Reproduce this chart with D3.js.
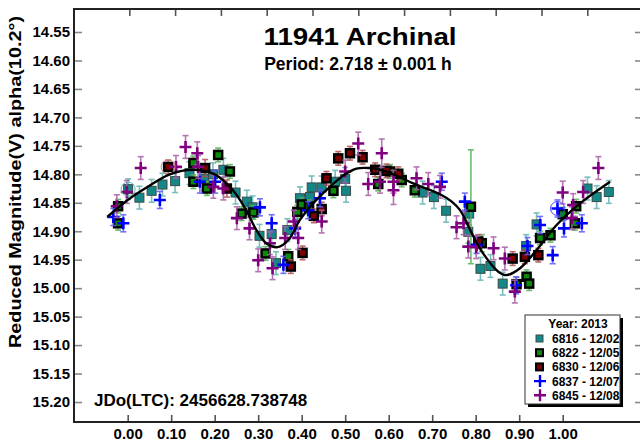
<!DOCTYPE html>
<html lang="en">
<head>
<meta charset="UTF-8">
<title>11941 Archinal</title>
<script src="https://cdn.jsdelivr.net/npm/d3@7/dist/d3.min.js"></script>
<style>
    body { margin: 0; background: #fff; }
    svg text { font-family: "Liberation Sans", Arial, sans-serif; font-weight: bold; }
</style>
</head>
<body>
<script>
    // 数据：[相位, 星等, 误差]
    const s6816 = [
        [0.001,14.826,0.018],[0.027,14.841,0.02],[0.055,14.829,0.02],[0.080,14.818,0.02],[0.109,14.812,0.02],
        [0.142,14.798,0.02],[0.176,14.808,0.02],[0.196,14.800,0.02],[0.220,14.792,0.02],[0.248,14.832,0.02],
        [0.274,14.848,0.02],[0.287,14.858,0.02],[0.303,14.908,0.02],[0.331,14.905,0.02],[0.341,14.956,0.02],
        [0.367,14.898,0.02],[0.396,14.842,0.02],[0.419,14.840,0.02],[0.423,14.823,0.02],[0.446,14.823,0.02],
        [0.477,14.813,0.02],[0.500,14.808,0.02],[0.502,14.829,0.02],[0.678,14.832,0.02],[0.704,14.840,0.02],
        [0.732,14.864,0.02],[0.785,14.869,0.02],[0.783,14.901,0.02],[0.811,14.966,0.02],[0.834,14.961,0.02],
        [0.862,14.992,0.02],[0.916,14.926,0.02],[0.940,14.888,0.02],[1.057,14.825,0.02],[1.078,14.840,0.02],
        [1.106,14.831,0.02]
    ];
    const s6822 = [
        [-0.022,14.886,0.012],[-0.022,14.856,0.012],[0.151,14.780,0.012],[0.151,14.813,0.012],[0.182,14.825,0.012],
        [0.208,14.766,0.012],[0.235,14.795,0.012],[0.262,14.869,0.012],[0.289,14.867,0.012],[0.317,14.939,0.012],
        [0.369,14.944,0.012],[0.390,14.866,0.012],[0.400,14.853,0.012],[0.417,14.857,0.012],[0.473,14.829,0.012],
        [0.576,14.817,0.012],[0.603,14.795,0.012],[0.630,14.810,0.012],[0.660,14.828,0.012],[0.789,14.857,0.1],
        [0.814,14.921,0.015],[0.894,14.993,0.012],[0.917,14.980,0.012],[0.923,14.992,0.012],[0.948,14.912,0.012],
        [0.972,14.907,0.012],[1.000,14.870,0.012],[1.028,14.886,0.012],[1.031,14.856,0.012]
    ];
    const s6830 = [
        [0.093,14.787,0.012],[0.178,14.789,0.015],[0.228,14.825,0.015],[0.375,14.962,0.012],[0.402,14.938,0.012],
        [0.428,14.873,0.012],[0.446,14.861,0.012],[0.457,14.807,0.012],[0.484,14.772,0.012],[0.511,14.763,0.012],
        [0.540,14.770,0.012],[0.569,14.792,0.012],[0.595,14.794,0.012],[0.622,14.799,0.012],[0.806,14.918,0.012],
        [0.885,14.948,0.012],[0.913,14.945,0.012],[0.944,14.942,0.012]
    ];
    const s6837 = [
        [-0.033,14.875,0.015],[-0.010,14.886,0.015],[0.074,14.845,0.015],[0.166,14.813,0.02],[0.201,14.813,0.02],
        [0.304,14.858,0.015],[0.331,14.886,0.015],[0.358,14.959,0.015],[0.385,14.895,0.015],[0.415,14.863,0.015],
        [0.442,14.842,0.015],[0.722,14.813,0.015],[0.775,14.848,0.015],[0.802,14.924,0.015],[0.893,14.995,0.015],
        [0.919,14.926,0.015],[0.948,14.889,0.015],[0.977,14.942,0.015],[0.988,14.860,0.015],[1.003,14.895,0.015],
        [1.044,14.886,0.015]
    ];
    const s6845 = [
        [-0.025,14.856,0.02],[-0.002,14.831,0.02],[0.030,14.789,0.02],[0.111,14.787,0.02],[0.133,14.752,0.02],
        [0.160,14.763,0.02],[0.162,14.787,0.02],[0.197,14.822,0.02],[0.220,14.825,0.02],[0.251,14.877,0.02],
        [0.280,14.895,0.02],[0.300,14.951,0.02],[0.327,14.921,0.02],[0.333,14.965,0.02],[0.362,14.912,0.02],
        [0.382,14.883,0.02],[0.392,14.912,0.02],[0.446,14.883,0.02],[0.500,14.795,0.02],[0.530,14.746,0.02],
        [0.553,14.817,0.02],[0.580,14.813,0.02],[0.584,14.763,0.025],[0.611,14.828,0.025],[0.611,14.813,0.02],
        [0.664,14.807,0.02],[0.691,14.817,0.02],[0.718,14.822,0.02],[0.756,14.893,0.02],[0.772,14.886,0.02],
        [0.783,14.927,0.02],[0.801,14.928,0.02],[0.841,14.930,0.02],[0.867,14.948,0.02],[0.890,15.006,0.02],
        [1.000,14.832,0.02],[1.021,14.877,0.02],[1.024,14.854,0.02],[1.047,14.831,0.02],[1.082,14.789,0.02]
    ];
    // 拟合曲线
    const fitCurve = [
        [-0.047,14.875],[0.0,14.845],[0.05,14.820],[0.097,14.800],[0.15,14.792],[0.20,14.800],[0.242,14.828],
        [0.27,14.860],[0.296,14.898],[0.32,14.922],[0.345,14.928],[0.37,14.915],[0.396,14.880],[0.43,14.848],
        [0.465,14.822],[0.50,14.800],[0.526,14.790],[0.555,14.789],[0.58,14.792],[0.62,14.803],[0.656,14.816],
        [0.718,14.835],[0.745,14.848],[0.764,14.863],[0.794,14.908],[0.817,14.939],[0.852,14.971],[0.871,14.977],
        [0.902,14.965],[0.94,14.933],[0.986,14.889],[1.04,14.851],[1.109,14.813]
    ];
    // 带圆圈标记的点
    const circled = [[0.093,14.787,'#d08080'],[0.001,14.826,'#60b0b0'],[0.988,14.860,'#4040ff']];

    const xTicks = [0,0.1,0.2,0.3,0.4,0.5,0.6,0.7,0.8,0.9,1.0];
    const yTicks = [14.55,14.60,14.65,14.70,14.75,14.80,14.85,14.90,14.95,15.00,15.05,15.10,15.15,15.20];
    const legendLabels = ['6816 - 12/02','6822 - 12/05','6830 - 12/06','6837 - 12/07','6845 - 12/08'];

    const w = 640, h = 442;
    const pLeft = 74, pRight = 641, pTop = 9, pBottom = 422;

    const svg = d3.select('body').append('svg')
        .attr('width', w).attr('height', h);

    const xScale = d3.scaleLinear().domain([-0.1234, 1.18]).range([pLeft, pRight]);
    const yScale = d3.scaleLinear().domain([14.5096, 15.2351]).range([pTop, pBottom]);
    // 顶部刻度与底部不一致
    const xTop = d3.scaleLinear().domain([0, 10]).range([129.3, 587.3]);

    // 数轴
    const tickColor = '#888';
    const gx = svg.append('g').attr('transform', 'translate(0,' + pBottom + ')')
        .call(d3.axisBottom(xScale).tickValues(xTicks).tickFormat(d3.format('.2f')).tickSize(-7).tickPadding(6));
    const gxt = svg.append('g').attr('transform', 'translate(0,' + pTop + ')')
        .call(d3.axisTop(xTop).ticks(10).tickFormat('').tickSize(-7));
    const gy = svg.append('g').attr('transform', 'translate(' + pLeft + ',0)')
        .call(d3.axisLeft(yScale).tickValues(yTicks).tickFormat(d3.format('.2f')).tickSize(-8).tickPadding(4));
    const gyr = svg.append('g').attr('transform', 'translate(' + pRight + ',0)')
        .call(d3.axisRight(yScale).tickValues(yTicks).tickFormat('').tickSize(-6));
    [gx, gxt, gy, gyr].forEach(g => {
        g.select('.domain').remove();
        g.selectAll('.tick line').attr('stroke', tickColor).attr('stroke-width', 1.6);
        g.selectAll('.tick text').attr('fill', '#000').style('font-size', '15px');
    });
    gx.selectAll('.tick line').attr('stroke', '#555');
    gxt.selectAll('.tick line').attr('stroke', '#555');

    // 边框
    svg.append('path')
        .attr('d', 'M' + pRight + ',' + pTop + 'H' + pLeft + 'V' + pBottom + 'H' + pRight)
        .attr('fill', 'none').attr('stroke', '#222').attr('stroke-width', 2);

    const series = [
        {data: s6816, kind: 'sq', fill: '#168787', stroke: '#3a4a4a', sw: 1, size: 9, err: '#63b3b3'},
        {data: s6822, kind: 'sq', fill: '#0a8a0a', stroke: '#000', sw: 2.5, size: 8, err: '#55b055'},
        {data: s6830, kind: 'sq', fill: '#7a0000', stroke: '#000', sw: 2.5, size: 8, err: '#b05050'},
        {data: s6837, kind: 'plus', fill: '#0000ff', err: '#5a5aff'},
        {data: s6845, kind: 'plus', fill: '#800080', err: '#a860a8'}
    ];

    const plot = svg.append('g');
    series.forEach(s => {
        const g = plot.append('g');
        // 误差棒
        const eb = g.selectAll('g.err').data(s.data).enter().append('g')
            .attr('stroke', s.err).attr('stroke-width', 1.6).attr('opacity', 0.85);
        eb.append('line')
            .attr('x1', d => xScale(d[0])).attr('x2', d => xScale(d[0]))
            .attr('y1', d => yScale(d[1] - d[2])).attr('y2', d => yScale(d[1] + d[2]));
        eb.append('line')
            .attr('x1', d => xScale(d[0]) - 3).attr('x2', d => xScale(d[0]) + 3)
            .attr('y1', d => yScale(d[1] - d[2])).attr('y2', d => yScale(d[1] - d[2]));
        eb.append('line')
            .attr('x1', d => xScale(d[0]) - 3).attr('x2', d => xScale(d[0]) + 3)
            .attr('y1', d => yScale(d[1] + d[2])).attr('y2', d => yScale(d[1] + d[2]));
        if (s.kind === 'sq') {
            g.selectAll('rect').data(s.data).enter().append('rect')
                .attr('x', d => xScale(d[0]) - s.size / 2)
                .attr('y', d => yScale(d[1]) - s.size / 2)
                .attr('width', s.size).attr('height', s.size)
                .attr('fill', s.fill).attr('stroke', s.stroke).attr('stroke-width', s.sw);
        } else {
            g.selectAll('path.mk').data(s.data).enter().append('path')
                .attr('d', d => {
                    const cx = xScale(d[0]), cy = yScale(d[1]);
                    return 'M' + (cx - 6) + ',' + cy + 'H' + (cx + 6) + 'M' + cx + ',' + (cy - 6) + 'V' + (cy + 6);
                })
                .attr('stroke', s.fill).attr('stroke-width', 2.6).attr('fill', 'none');
        }
    });

    plot.selectAll('circle.hl').data(circled).enter().append('circle')
        .attr('cx', d => xScale(d[0])).attr('cy', d => yScale(d[1])).attr('r', 7)
        .attr('fill', 'none').attr('stroke', d => d[2]).attr('stroke-width', 1);

    // 拟合曲线
    const line = d3.line().x(d => xScale(d[0])).y(d => yScale(d[1])).curve(d3.curveCatmullRom);
    svg.append('path').datum(fitCurve).attr('d', line)
        .attr('fill', 'none').attr('stroke', '#000').attr('stroke-width', 2.4);

    // 标题
    svg.append('text').attr('x', 360).attr('y', 45).attr('text-anchor', 'middle')
        .style('font-size', '24px').attr('textLength', 193).attr('lengthAdjust', 'spacingAndGlyphs')
        .text('11941 Archinal');
    svg.append('text').attr('x', 358).attr('y', 70).attr('text-anchor', 'middle')
        .style('font-size', '17.5px').text('Period: 2.718 ± 0.001 h');
    svg.append('text').attr('x', 94).attr('y', 406)
        .style('font-size', '17px').text('JDo(LTC): 2456628.738748');
    svg.append('text').attr('transform', 'translate(21,182) rotate(-90)').attr('text-anchor', 'middle')
        .style('font-size', '16px').attr('textLength', 332).attr('lengthAdjust', 'spacingAndGlyphs')
        .text('Reduced Magnitude(V) alpha(10.2°)');

    // 图例
    const lg = svg.append('g').attr('transform', 'translate(525,315)');
    lg.append('rect').attr('x', 3).attr('y', 3).attr('width', 95).attr('height', 89).attr('fill', '#000');
    lg.append('rect').attr('width', 95).attr('height', 89).attr('fill', '#fff').attr('stroke', '#333').attr('stroke-width', 1);
    lg.append('text').attr('x', 53).attr('y', 13).attr('text-anchor', 'middle')
        .style('font-size', '12px').text('Year: 2013');
    const items = lg.selectAll('g.item').data(legendLabels).enter().append('g')
        .attr('transform', (d, i) => 'translate(0,' + (23.5 + i * 14.2) + ')');
    items.append('text').attr('x', 27).attr('y', 4.5).style('font-size', '12px').text(d => d);
    items.each(function (d, i) {
        const s = series[i];
        const g = d3.select(this);
        if (s.kind === 'sq') {
            g.append('rect').attr('x', 11).attr('y', -3.5).attr('width', 7).attr('height', 7)
                .attr('fill', s.fill).attr('stroke', s.stroke).attr('stroke-width', i === 0 ? 1 : 2);
        } else {
            g.append('path').attr('d', 'M9,0H21M15,-6V6')
                .attr('stroke', s.fill).attr('stroke-width', 2.4);
        }
    });
</script>
</body>
</html>
